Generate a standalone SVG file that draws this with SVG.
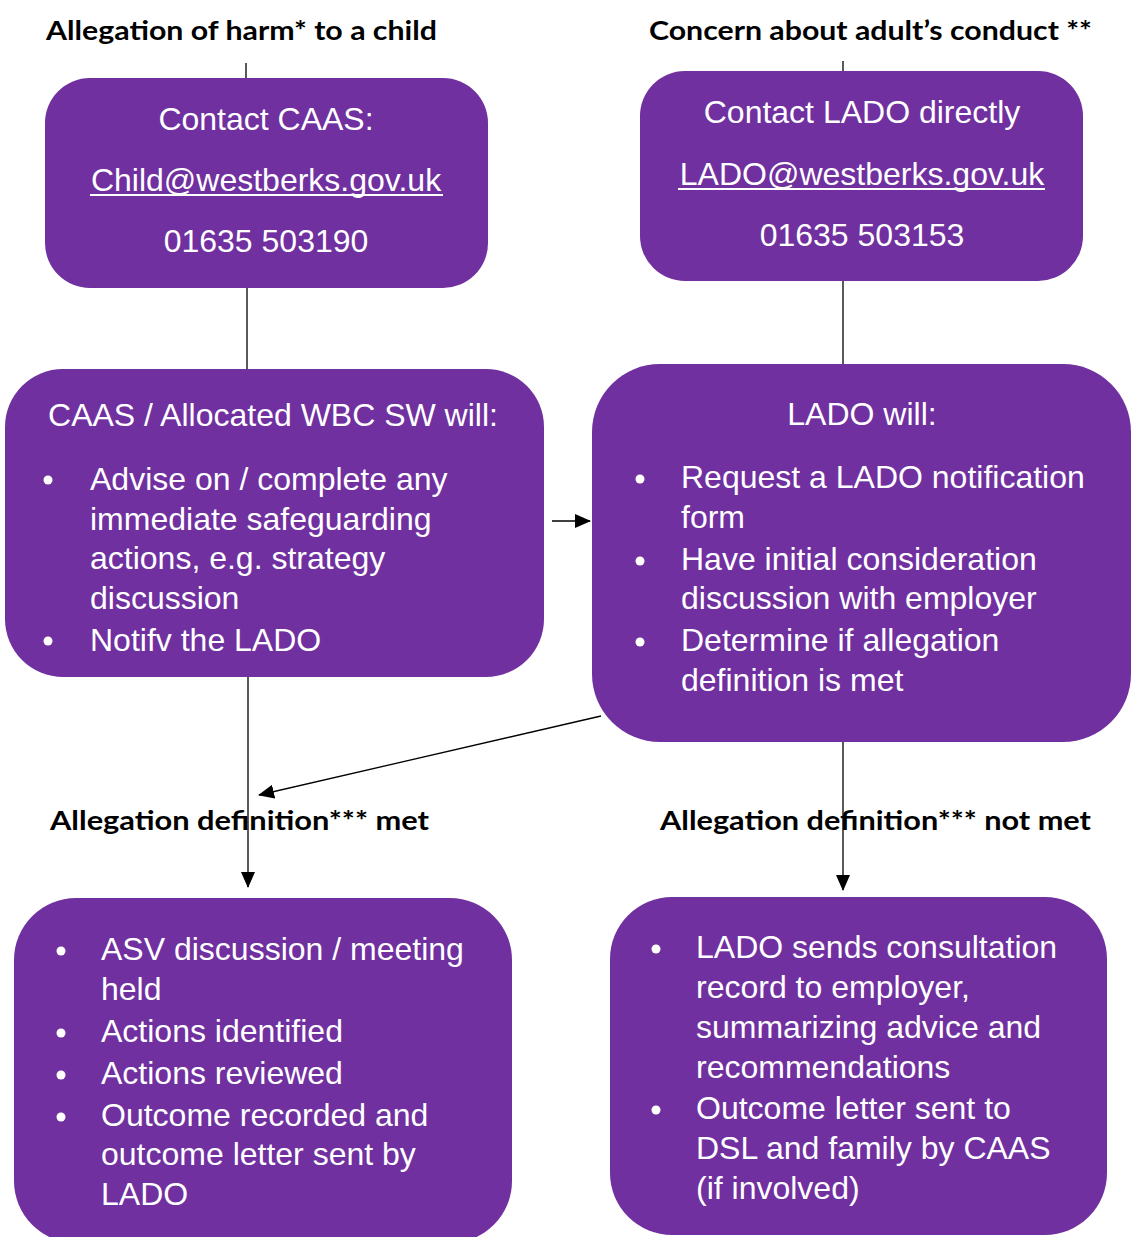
<svg xmlns="http://www.w3.org/2000/svg" width="1136" height="1237" viewBox="0 0 1136 1237">
<style>
.box{fill:#7030A0;}
.t{font-family:"Liberation Sans",Arial,sans-serif;font-size:32px;fill:#ffffff;}
.c{text-anchor:middle;}
.h{font-family:Lato,"Liberation Sans",sans-serif;font-weight:bold;font-size:27px;fill:#000000;}
.ln{stroke:#000;stroke-width:1.3;fill:none;}
.u{stroke:#fff;stroke-width:2;}
</style>
<defs>
<marker id="ah2" markerWidth="16" markerHeight="14" refX="15" refY="7" orient="auto" markerUnits="userSpaceOnUse" viewBox="0 0 16 14">
<path d="M0,0 L16,7 L0,14 z" fill="#000"/>
</marker>
</defs>

<g id="labels">
<text class="h" x="46" y="40" textLength="391" lengthAdjust="spacingAndGlyphs">Allegation of harm* to a child</text>
<text class="h" x="649" y="40" textLength="443" lengthAdjust="spacingAndGlyphs">Concern about adult’s conduct **</text>
<text class="h" x="50" y="830" textLength="379" lengthAdjust="spacingAndGlyphs">Allegation definition*** met</text>
<text class="h" x="660" y="830" textLength="431" lengthAdjust="spacingAndGlyphs">Allegation definition*** not met</text>
</g>

<g id="connectors">
<line class="ln" x1="246" y1="63" x2="246" y2="78"/>
<line class="ln" x1="247" y1="288" x2="247" y2="369"/>
<line class="ln" x1="843" y1="61" x2="843" y2="71"/>
<line class="ln" x1="843" y1="281" x2="843" y2="364"/>
<line class="ln" x1="552" y1="521" x2="590" y2="521" marker-end="url(#ah2)"/>
<line class="ln" x1="248" y1="677" x2="248" y2="887" marker-end="url(#ah2)"/>
<line class="ln" x1="843" y1="742" x2="843" y2="890" marker-end="url(#ah2)"/>
<line class="ln" x1="601" y1="716" x2="259" y2="795" marker-end="url(#ah2)"/>
</g>

<g id="node-caas-contact">
<rect class="box" x="45" y="78" width="443" height="210" rx="45" ry="45"/>
<text class="t c" x="266" y="130">Contact CAAS:</text>
<text class="t c" x="266" y="191">Child@westberks.gov.uk</text>
<line class="u" x1="90" y1="195" x2="443" y2="195"/>
<text class="t c" x="266" y="252">01635 503190</text>
</g>

<g id="node-lado-contact">
<rect class="box" x="640" y="71" width="443" height="210" rx="45" ry="45"/>
<text class="t c" x="862" y="123">Contact LADO directly</text>
<text class="t c" x="862" y="185">LADO@westberks.gov.uk</text>
<line class="u" x1="678" y1="189" x2="1045" y2="189"/>
<text class="t c" x="862" y="246">01635 503153</text>
</g>

<g id="node-caas-will">
<rect class="box" x="5" y="369" width="539" height="308" rx="58" ry="58"/>
<text class="t c" x="273" y="426">CAAS / Allocated WBC SW will:</text>
<circle cx="48" cy="480" r="4.5" fill="#fff"/>
<text class="t" x="90" y="490">Advise on / complete any</text>
<text class="t" x="90" y="530">immediate safeguarding</text>
<text class="t" x="90" y="569">actions, e.g. strategy</text>
<text class="t" x="90" y="609">discussion</text>
<circle cx="48" cy="641" r="4.5" fill="#fff"/>
<text class="t" x="90" y="651">Notifv the LADO</text>
</g>

<g id="node-lado-will">
<rect class="box" x="592" y="364" width="539" height="378" rx="68" ry="68"/>
<text class="t c" x="862" y="425">LADO will:</text>
<circle cx="640" cy="479" r="4.5" fill="#fff"/>
<text class="t" x="681" y="488">Request a LADO notification</text>
<text class="t" x="681" y="528">form</text>
<circle cx="640" cy="561" r="4.5" fill="#fff"/>
<text class="t" x="681" y="570">Have initial consideration</text>
<text class="t" x="681" y="609">discussion with employer</text>
<circle cx="640" cy="642" r="4.5" fill="#fff"/>
<text class="t" x="681" y="651">Determine if allegation</text>
<text class="t" x="681" y="691">definition is met</text>
</g>

<g id="node-met">
<rect class="box" x="14" y="898" width="498" height="345" rx="62" ry="62"/>
<circle cx="61" cy="951" r="4.5" fill="#fff"/>
<text class="t" x="101" y="960">ASV discussion / meeting</text>
<text class="t" x="101" y="1000">held</text>
<circle cx="61" cy="1033" r="4.5" fill="#fff"/>
<text class="t" x="101" y="1042">Actions identified</text>
<circle cx="61" cy="1075" r="4.5" fill="#fff"/>
<text class="t" x="101" y="1084">Actions reviewed</text>
<circle cx="61" cy="1117" r="4.5" fill="#fff"/>
<text class="t" x="101" y="1126">Outcome recorded and</text>
<text class="t" x="101" y="1165">outcome letter sent by</text>
<text class="t" x="101" y="1205">LADO</text>
</g>

<g id="node-not-met">
<rect class="box" x="610" y="897" width="497" height="338" rx="62" ry="62"/>
<circle cx="656" cy="949" r="4.5" fill="#fff"/>
<text class="t" x="696" y="958">LADO sends consultation</text>
<text class="t" x="696" y="998">record to employer,</text>
<text class="t" x="696" y="1038">summarizing advice and</text>
<text class="t" x="696" y="1078">recommendations</text>
<circle cx="656" cy="1110" r="4.5" fill="#fff"/>
<text class="t" x="696" y="1119">Outcome letter sent to</text>
<text class="t" x="696" y="1159">DSL and family by CAAS</text>
<text class="t" x="696" y="1199">(if involved)</text>
</g>
</svg>
